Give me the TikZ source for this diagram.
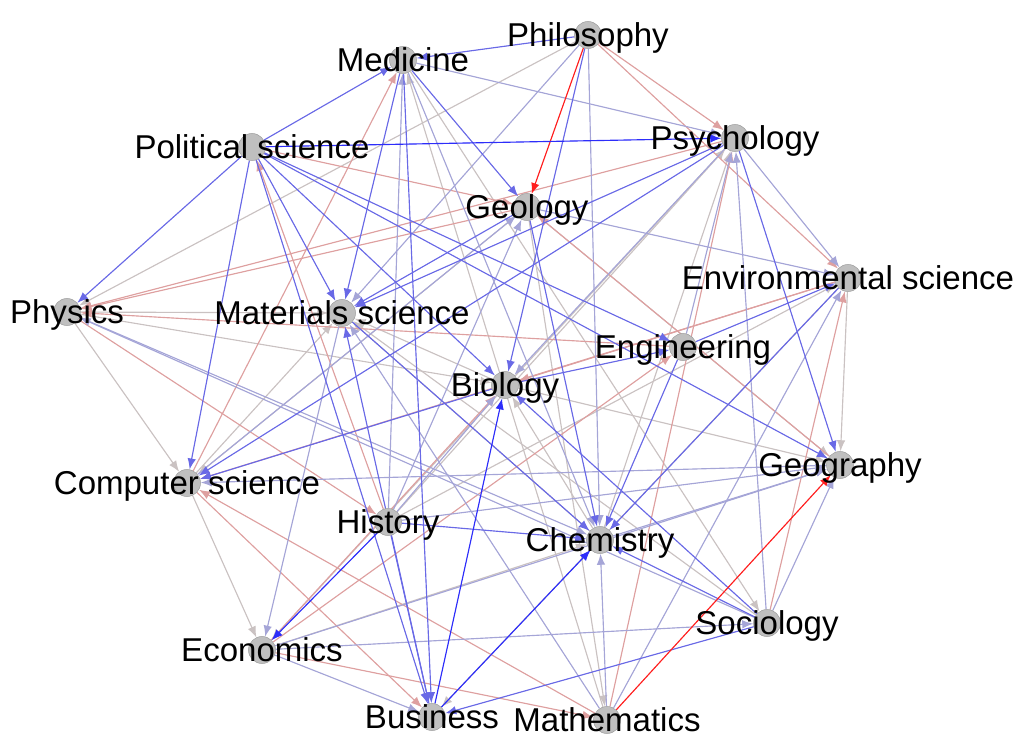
\documentclass[tikz,border=0pt]{standalone}
\usepackage{fontspec}
\setmainfont{Liberation Sans}
\usetikzlibrary{arrows.meta}

\definecolor{strongblue}{RGB}{45,45,250}
\definecolor{midblue}{RGB}{105,105,230}
\definecolor{paleblue}{RGB}{165,165,215}
\definecolor{palegray}{RGB}{202,194,194}
\definecolor{palered}{RGB}{222,160,160}
\definecolor{brightred}{RGB}{255,30,30}

\pgfdeclarelayer{edges}
\pgfsetlayers{edges,main}

\tikzset{
  topic/.style={circle, fill=black!25, draw=black!38, line width=0.3pt,
    minimum size=0.54cm, inner sep=0pt},
  tag/.style={font=\fontsize{18.8}{20}\selectfont, inner sep=0pt,
    text height=0.47cm, text depth=0pt},
  link/.style={line width=0.65pt, -{Latex[length=0.22cm,width=0.17cm]}},
  sblue/.style={link, draw=strongblue, fill=strongblue},
  mblue/.style={link, draw=midblue, fill=midblue},
  pblue/.style={link, draw=paleblue, fill=paleblue},
  pgray/.style={link, draw=palegray, fill=palegray},
  pred/.style={link, draw=palered, fill=palered},
  bred/.style={link, draw=brightred, fill=brightred},
}

\begin{document}
\begin{tikzpicture}[x=0.02cm, y=-0.02cm]
  \useasboundingbox (0,0) rectangle (1021,739);

  % fields
  \node[topic, label={[tag]center:Philosophy}] (phil) at (588,35) {};
  \node[topic, label={[tag]center:Medicine}] (med) at (403,60) {};
  \node[topic, label={[tag]center:Psychology}] (psy) at (735,138) {};
  \node[topic, label={[tag]center:Political science}] (polsci) at (252,147) {};
  \node[topic, label={[tag]center:Geology}] (geol) at (527,207) {};
  \node[topic, label={[tag]center:Environmental science}] (env) at (848,278) {};
  \node[topic, label={[tag]center:Physics}] (phys) at (67,312) {};
  \node[topic, label={[tag]center:Materials science}] (mat) at (342,313) {};
  \node[topic, label={[tag]center:Engineering}] (eng) at (683,347) {};
  \node[topic, label={[tag]center:Biology}] (bio) at (505,385) {};
  \node[topic, label={[tag]center:Computer science}] (cs) at (187,483) {};
  \node[topic, label={[tag]center:Geography}] (geog) at (840,465) {};
  \node[topic, label={[tag]center:History}] (hist) at (388,522) {};
  \node[topic, label={[tag]center:Chemistry}] (chem) at (600,540) {};
  \node[topic, label={[tag]center:Sociology}] (soc) at (767,623) {};
  \node[topic, label={[tag]center:Economics}] (econ) at (262,650) {};
  \node[topic, label={[tag]center:Business}] (bus) at (432,717) {};
  \node[topic, label={[tag]center:Mathematics}] (math) at (607,720) {};

  \begin{pgfonlayer}{edges}
    % weak links first, strong ones on top
    \foreach \a/\b in {phil/phys, math/med, phys/mat, phys/bio, phys/cs,
        cs/econ, geol/cs, chem/mat, soc/mat, bio/mat, chem/bio, env/geog,
        bio/geog, geol/geog, hist/env, hist/psy, econ/chem, chem/psy,
        cs/mat, env/bus, geol/math, med/soc, psy/econ}
      \draw[pgray] (\a) -- (\b);
    \foreach \a/\b in {phil/psy, phil/env, cs/med, geol/phys, psy/phys,
        eng/phys, polsci/geol, env/cs, env/bio, econ/bio, econ/eng,
        math/cs, cs/bus, math/psy, soc/env, geog/geol, econ/math,
        hist/polsci, phys/hist}
      \draw[pred] (\a) -- (\b);
    \foreach \a/\b in {phil/chem, med/psy, hist/med, geol/env, mat/econ,
        econ/bus, econ/geog, econ/soc, geog/cs, hist/geog, chem/geog,
        soc/geog, soc/psy, soc/phys, math/chem, math/env, phys/chem,
        eng/psy, psy/env, hist/bio, cs/geol, hist/geol, psy/bio,
        phil/mat, med/chem, math/mat}
      \draw[pblue] (\a) -- (\b);
    \foreach \a/\b in {phil/med, polsci/med, polsci/phys, polsci/mat,
        polsci/bio, polsci/geog, polsci/eng, polsci/cs, polsci/bus,
        med/mat, med/geol, med/bus, phil/bio, psy/mat, psy/cs, psy/geog,
        bio/cs, bio/eng, eng/env, eng/chem, env/chem, geol/chem,
        soc/bio, soc/chem, soc/bus, hist/chem, hist/bus, mat/chem,
        bus/mat, geol/mat}
      \draw[mblue] (\a) -- (\b);
    \foreach \a/\b in {phil/geol, math/geog}
      \draw[bred] (\a) -- (\b);
    \foreach \a/\b in {polsci/psy, bus/bio, hist/econ, bus/chem}
      \draw[sblue] (\a) -- (\b);
  \end{pgfonlayer}
\end{tikzpicture}
\end{document}
